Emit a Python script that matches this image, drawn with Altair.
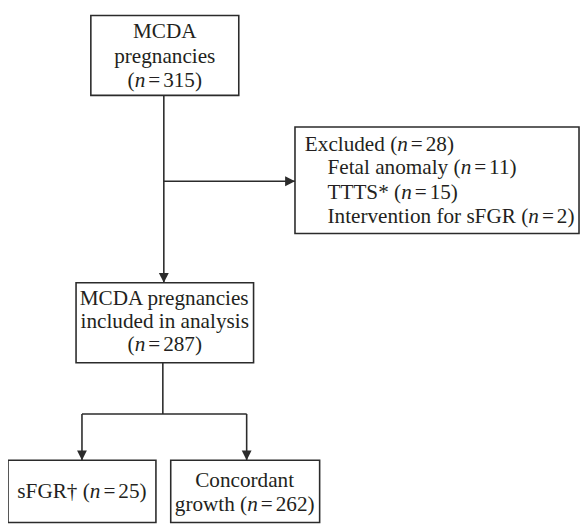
import altair as alt
import pandas as pd

# ---------------- data ----------------
total_label = ["MCDA", "pregnancies"]
total_n = 315
excluded_label = "Excluded"
excluded_n = 28
excluded_reasons = ["Fetal anomaly", "TTTS*", "Intervention for sFGR"]
excluded_reason_n = [11, 15, 2]
included_label = ["MCDA pregnancies", "included in analysis"]
included_n = 287
group_labels = ["sFGR\u2020", "Concordant growth"]
group_n = [25, 262]

# ---------------- layout (page pixel coordinates) ----------------
FONT = "Liberation Serif"
FS = 21.5
TXT = "#231f20"
LINE = "#2b2b2b"
GAP = 3.0  # gap between italic n and "="

boxes = {
    "total": (92, 242, 12, 93),
    "excluded": (299, 587, 125, 233),
    "included": (77, 257, 283, 364),
    "sfgr": (8, 158, 463, 526),
    "concordant": (173, 324, 463, 526),
}

# width table (Times / Liberation Serif metrics, per 1000 em)
W = {" ": 250, "(": 333, ")": 333, "=": 564, "*": 500, "\u2020": 500,
     "A": 722, "C": 667, "D": 722, "E": 611, "F": 556, "G": 722, "I": 333, "M": 889,
     "R": 667, "S": 556, "T": 611, "a": 444, "c": 444, "d": 500, "e": 444, "f": 333,
     "g": 500, "h": 500, "i": 278, "l": 278, "m": 778, "n": 500, "o": 500, "p": 500,
     "r": 333, "s": 389, "t": 278, "u": 500, "v": 500, "w": 722, "x": 500, "y": 500}
for d in "0123456789":
    W[d] = 500


def width(s):
    return sum(W.get(c, 500) for c in s) * FS / 1000.0


NW = 500 * FS / 1000.0


def line_parts(prefix, n):
    """Return list of (text, italic, advance) pieces for one line."""
    if n is None:
        return [(prefix, False, width(prefix))]
    pre = (prefix + " (") if prefix else "("
    eq = "="
    return [
        (pre, False, width(pre)),
        ("n", True, NW + GAP),
        (eq, False, width(eq) + GAP),
        (f"{n})", False, width(f"{n})")),
    ]


# lines per node: (prefix, count)
node_lines = {
    "total": [(total_label[0], None), (total_label[1], None), ("", total_n)],
    "excluded": [(excluded_label, excluded_n)]
    + [(r, c) for r, c in zip(excluded_reasons, excluded_reason_n)],
    "included": [(included_label[0], None), (included_label[1], None), ("", included_n)],
    "sfgr": [(group_labels[0], group_n[0])],
    "concordant": [("Concordant", None), ("growth", group_n[1])],
}

# text placement: anchor x, alignment, baselines
text_layout = {
    "total": (167, "center", [35, 60, 84]),
    "excluded": ([309, 332, 332, 332], "left", [149, 173, 198, 222]),
    "included": (167, "center", [306, 329, 352]),
    "sfgr": (83, "center", [501]),
    "concordant": (248, "center", [490, 514]),
}

text_rows = []
for node, lines in node_lines.items():
    ax, align, bases = text_layout[node]
    for i, (prefix, n) in enumerate(lines):
        parts = line_parts(prefix, n)
        tot = sum(p[2] for p in parts)
        anchor = ax[i] if isinstance(ax, list) else ax
        x0 = anchor - tot / 2 if align == "center" else anchor
        for t, it, adv in parts:
            text_rows.append({"x": x0, "y": bases[i], "text": t, "italic": it})
            x0 += adv
text_df = pd.DataFrame(text_rows)

box_df = pd.DataFrame(
    [{"id": k, "x0": v[0], "x1": v[1], "y0": v[2], "y1": v[3]} for k, v in boxes.items()]
)

# connector segments (x, y, x2, y2)
segments = [
    (166, 93, 166, 283),
    (166, 180, 299, 180),
    (165, 364, 165, 416),
    (83, 416, 250, 416),
    (83, 416, 83, 463),
    (250, 416, 250, 463),
]
seg_df = pd.DataFrame(segments, columns=["x", "y", "x2", "y2"])

arrows = [
    (166, 283, "down"),
    (299, 180, "right"),
    (83, 463, "down"),
    (250, 463, "down"),
]
arr_df = pd.DataFrame(arrows, columns=["x", "y", "dir"])

# ---------------- chart ----------------
xs = alt.Scale(domain=[8, 588], nice=False, zero=False)
ys = alt.Scale(domain=[8, 527], nice=False, zero=False, reverse=True)

rects = alt.Chart(box_df).mark_rect(
    fill="white", stroke=LINE, strokeWidth=1.6
).encode(
    x=alt.X("x0:Q", scale=xs, axis=None),
    x2="x1:Q",
    y=alt.Y("y0:Q", scale=ys, axis=None),
    y2="y1:Q",
)

rules = alt.Chart(seg_df).mark_rule(color=LINE, strokeWidth=1.6).encode(
    x=alt.X("x:Q", scale=xs, axis=None),
    x2="x2:Q",
    y=alt.Y("y:Q", scale=ys, axis=None),
    y2="y2:Q",
)

heads = alt.Chart(arr_df).mark_point(
    filled=True, size=100, color=LINE, opacity=1, strokeWidth=0
).encode(
    x=alt.X("x:Q", scale=xs, axis=None),
    y=alt.Y("y:Q", scale=ys, axis=None),
    shape=alt.Shape(
        "dir:N",
        scale=alt.Scale(
            domain=["down", "right"],
            range=["M-1,-2L1,-2L0,0Z", "M-2,-1L-2,1L0,0Z"],
        ),
        legend=None,
    ),
)

base_text = alt.Chart(text_df)
upright = base_text.transform_filter("!datum.italic").mark_text(
    font=FONT, fontSize=FS, color=TXT, align="left", baseline="alphabetic"
).encode(
    x=alt.X("x:Q", scale=xs, axis=None),
    y=alt.Y("y:Q", scale=ys, axis=None),
    text="text:N",
)
italic = base_text.transform_filter("datum.italic").mark_text(
    font=FONT, fontSize=FS, color=TXT, align="left", baseline="alphabetic",
    fontStyle="italic",
).encode(
    x=alt.X("x:Q", scale=xs, axis=None),
    y=alt.Y("y:Q", scale=ys, axis=None),
    text="text:N",
)

chart = alt.layer(rules, heads, rects, upright, italic).properties(
    width=580, height=519, padding=0, autosize="none"
).configure_view(stroke=None)

chart.save("out.html", embed_options={"renderer": "svg", "actions": False})
